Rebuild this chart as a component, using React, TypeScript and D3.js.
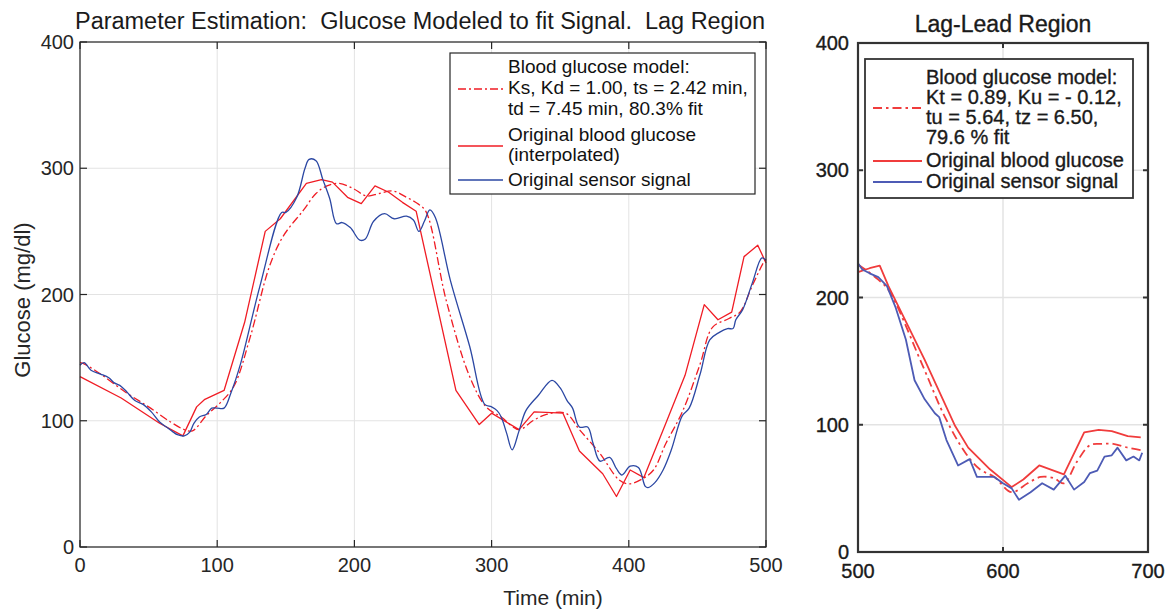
import React from 'react';
import * as d3 from 'd3';

// ---------- Left panel data (Lag Region) ----------
const lagXTicks = [0, 100, 200, 300, 400, 500];
const lagYTicks = [0, 100, 200, 300, 400];

const lagBloodT = [0, 30, 58, 75, 85, 91, 105, 120, 135, 146, 165, 176, 184, 195, 205, 215, 225, 235, 245, 274, 291, 300, 320, 331, 352, 364, 381, 391, 401, 411, 427, 441, 455, 465, 475, 484, 494, 500];
const lagBloodG = [135, 118, 98, 88, 111, 117, 124, 178, 250, 260, 288, 291, 289, 277, 272, 286, 281, 273, 266, 124, 97, 106, 93, 107, 106, 76, 58, 40, 61, 55, 98, 136, 192, 180, 186, 230, 239, 225];

const lagSensorT = [0, 3, 8, 15, 21, 25, 29, 34, 40, 46, 52, 58, 63, 68, 71, 76, 80, 83, 87, 92, 96, 100, 105, 110, 117, 131, 147, 150, 158, 164, 167, 172, 177, 182, 187, 191, 197, 204, 208, 214, 222, 229, 238, 243, 247, 251, 255, 259, 270, 284, 295, 300, 304, 307, 311, 315, 320, 325, 334, 344, 350, 355, 359, 364, 370, 374, 379, 386, 391, 395, 401, 407, 412, 414, 419, 425, 431, 439, 444, 452, 459, 466, 472, 476, 478, 483, 490, 497, 500];
const lagSensorG = [144, 146, 140, 137, 134, 130, 128, 123, 116, 113, 107, 99, 95, 91, 89, 88, 91, 98, 103, 105, 110, 110, 110, 122, 145, 206, 265, 265, 277, 300, 307, 306, 291, 276, 256, 257, 253, 243, 244, 258, 264, 260, 262, 259, 250, 258, 267, 261, 211, 159, 113, 111, 108, 103, 90, 77, 92, 108, 120, 132, 126, 116, 110, 95, 95, 82, 68, 71, 62, 57, 64, 63, 48, 47, 51, 61, 77, 104, 110, 137, 164, 170, 173, 173, 180, 188, 209, 229, 227];

const lagModelT = [0, 3, 15, 34, 50, 66, 76, 82, 92, 102, 112, 124, 138, 148, 163, 172, 180, 189, 199, 209, 218, 228, 238, 246, 252, 267, 284, 296, 307, 320, 330, 340, 354, 364, 379, 393, 400, 410, 418, 427, 439, 452, 461, 473, 481, 490, 498, 500];
const lagModelG = [146, 145, 137, 122, 111, 99, 93, 92, 104, 114, 127, 166, 222, 246, 267, 280, 286, 288, 284, 278, 280, 282, 277, 272, 266, 195, 135, 111, 103, 93, 100, 105, 106, 93, 74, 53, 50, 54, 61, 82, 107, 145, 174, 181, 186, 207, 225, 228];

const lagLegendModel = ['Blood glucose model:', 'Ks, Kd = 1.00, ts = 2.42 min,', 'td = 7.45 min, 80.3% fit'];
const lagLegendBlood = ['Original blood glucose', '(interpolated)'];
const lagLegendSensor = ['Original sensor signal'];

// ---------- Right panel data (Lag-Lead Region) ----------
const leadXTicks = [500, 600, 700];
const leadYTicks = [0, 100, 200, 300, 400];

const leadBloodT = [500, 508, 515, 521, 546, 567, 576, 591, 606, 614, 625, 642, 656, 666, 675, 686, 695];
const leadBloodG = [220, 223, 225, 209, 151, 99, 82, 65, 51, 57, 68, 61, 94, 96, 95, 91, 90];

const leadSensorT = [500, 503, 508, 514, 520, 526, 533, 539, 546, 553, 556, 561, 569, 577, 582, 594, 600, 606, 611, 619, 627, 635, 643, 649, 656, 660, 665, 670, 675, 679, 685, 690, 694, 696];
const leadSensorG = [227, 222, 219, 216, 209, 192, 167, 135, 120, 109, 106, 88, 68, 73, 59, 59, 54, 50, 41, 47, 54, 49, 60, 49, 55, 62, 64, 75, 76, 82, 72, 75, 72, 78];

const leadModelT = [500, 505, 514, 521, 544, 560, 574, 584, 594, 606, 617, 626, 635, 642, 651, 660, 668, 676, 686, 695];
const leadModelG = [226, 222, 214, 206, 148, 106, 78, 65, 59, 47, 54, 59, 58, 54, 71, 84, 85, 85, 82, 80];

const leadLegendModel = ['Blood glucose model:', 'Kt = 0.89, Ku = - 0.12,', 'tu = 5.64, tz = 6.50,', '79.6 % fit'];
const leadLegendBlood = ['Original blood glucose'];
const leadLegendSensor = ['Original sensor signal'];

const FONT = '"Liberation Sans", Arial, Helvetica, sans-serif';

const zip = (t: number[], g: number[]) => t.map((v, i) => [v, g[i]] as [number, number]);

export default function App() {
  // Left panel scales
  const lx = d3.scaleLinear().domain([0, 500]).range([80, 766]);
  const ly = d3.scaleLinear().domain([0, 400]).range([547, 42]);
  const lLine = d3.line<[number, number]>().x(d => lx(d[0])).y(d => ly(d[1]));
  const lSmooth = d3.line<[number, number]>().x(d => lx(d[0])).y(d => ly(d[1])).curve(d3.curveCatmullRom.alpha(0.5));

  // Right panel scales
  const rx = d3.scaleLinear().domain([500, 700]).range([858, 1148]);
  const ry = d3.scaleLinear().domain([0, 400]).range([552, 43]);
  const rLine = d3.line<[number, number]>().x(d => rx(d[0])).y(d => ry(d[1]));
  const rSmooth = d3.line<[number, number]>().x(d => rx(d[0])).y(d => ry(d[1])).curve(d3.curveCatmullRom.alpha(0.5));

  const lRed = '#f01c24';
  const lBlue = '#2b47a3';
  const rRed = '#f03c3c';
  const rBlue = '#4d5bb5';
  const grid = '#e3e3e3';

  const [lx0, lx1] = lx.range();
  const [ly0, ly1] = ly.range();
  const [rx0, rx1] = rx.range();
  const [ry0, ry1] = ry.range();

  const rText = { stroke: '#1a1a1a', strokeWidth: 0.35 };

  return (
    <svg width={1167} height={612} style={{ position: 'absolute', left: 0, top: 0, background: '#fff' }} fontFamily={FONT}>
      <rect x={0} y={0} width={1167} height={612} fill="#fff" />
      {/* ===== Left panel ===== */}
      <g>
        {lagXTicks.map(t => (
          <line key={'lgx' + t} x1={lx(t)} x2={lx(t)} y1={ly0} y2={ly1} stroke={grid} strokeWidth={1} />
        ))}
        {lagYTicks.map(t => (
          <line key={'lgy' + t} x1={lx0} x2={lx1} y1={ly(t)} y2={ly(t)} stroke={grid} strokeWidth={1} />
        ))}
        <path d={lLine(zip(lagBloodT, lagBloodG)) || ''} fill="none" stroke={lRed} strokeWidth={1.3} strokeLinejoin="round" />
        <path d={lSmooth(zip(lagModelT, lagModelG)) || ''} fill="none" stroke={lRed} strokeWidth={1.3} strokeDasharray="8,3,2,3" />
        <path d={lSmooth(zip(lagSensorT, lagSensorG)) || ''} fill="none" stroke={lBlue} strokeWidth={1.3} strokeLinejoin="round" />
        <rect x={lx0} y={ly1} width={lx1 - lx0} height={ly0 - ly1} fill="none" stroke="#262626" strokeWidth={1.2} />
        {lagXTicks.map(t => (
          <g key={'ltx' + t}>
            <line x1={lx(t)} x2={lx(t)} y1={ly0} y2={ly0 - 7} stroke="#262626" strokeWidth={1.2} />
            <line x1={lx(t)} x2={lx(t)} y1={ly1} y2={ly1 + 7} stroke="#262626" strokeWidth={1.2} />
            <text x={lx(t)} y={572} textAnchor="middle" fontSize={20} fill="#262626">{t}</text>
          </g>
        ))}
        {lagYTicks.map(t => (
          <g key={'lty' + t}>
            <line x1={lx0} x2={lx0 + 7} y1={ly(t)} y2={ly(t)} stroke="#262626" strokeWidth={1.2} />
            <line x1={lx1} x2={lx1 - 7} y1={ly(t)} y2={ly(t)} stroke="#262626" strokeWidth={1.2} />
            <text x={74} y={ly(t) + 7} textAnchor="end" fontSize={20} fill="#262626">{t}</text>
          </g>
        ))}
        <text x={420} y={29} textAnchor="middle" fontSize={23} fill="#1a1a1a" textLength={690} lengthAdjust="spacingAndGlyphs" style={{ whiteSpace: 'pre' }}>Parameter Estimation:  Glucose Modeled to fit Signal.  Lag Region</text>
        <text x={553} y={605} textAnchor="middle" fontSize={21} fill="#262626">Time (min)</text>
        <text transform="translate(30,300) rotate(-90)" textAnchor="middle" fontSize={22} fill="#262626">Glucose (mg/dl)</text>
        {/* legend */}
        <rect x={450} y={53} width={305} height={141} fill="#fff" stroke="#262626" strokeWidth={1.2} />
        <line x1={458} x2={503} y1={89} y2={89} stroke={lRed} strokeWidth={1.3} strokeDasharray="8,3,2,3" />
        <line x1={458} x2={503} y1={146} y2={146} stroke={lRed} strokeWidth={1.3} />
        <line x1={458} x2={503} y1={180} y2={180} stroke={lBlue} strokeWidth={1.3} />
        {lagLegendModel.map((s, i) => (
          <text key={'llm' + i} x={508} y={73 + i * 21} fontSize={19} fill="#111">{s}</text>
        ))}
        {lagLegendBlood.map((s, i) => (
          <text key={'llb' + i} x={508} y={141 + i * 20} fontSize={19} fill="#111">{s}</text>
        ))}
        {lagLegendSensor.map((s, i) => (
          <text key={'lls' + i} x={508} y={186 + i * 20} fontSize={19} fill="#111">{s}</text>
        ))}
      </g>

      {/* ===== Right panel ===== */}
      <g>
        {leadXTicks.map(t => (
          <line key={'rgx' + t} x1={rx(t)} x2={rx(t)} y1={ry0} y2={ry1} stroke={grid} strokeWidth={1.5} />
        ))}
        {leadYTicks.map(t => (
          <line key={'rgy' + t} x1={rx0} x2={rx1} y1={ry(t)} y2={ry(t)} stroke={grid} strokeWidth={1.5} />
        ))}
        <path d={rLine(zip(leadBloodT, leadBloodG)) || ''} fill="none" stroke={rRed} strokeWidth={1.8} strokeLinejoin="round" />
        <path d={rSmooth(zip(leadModelT, leadModelG)) || ''} fill="none" stroke={rRed} strokeWidth={1.8} strokeDasharray="9,4,2.5,4" />
        <path d={rLine(zip(leadSensorT, leadSensorG)) || ''} fill="none" stroke={rBlue} strokeWidth={1.8} strokeLinejoin="round" />
        <rect x={rx0} y={ry1} width={rx1 - rx0} height={ry0 - ry1} fill="none" stroke="#333" strokeWidth={2.2} />
        {leadXTicks.map(t => (
          <g key={'rtx' + t}>
            <line x1={rx(t)} x2={rx(t)} y1={ry0} y2={ry0 - 5} stroke="#333" strokeWidth={2} />
            <line x1={rx(t)} x2={rx(t)} y1={ry1} y2={ry1 + 5} stroke="#333" strokeWidth={2} />
            <text x={rx(t)} y={578} textAnchor="middle" fontSize={20} fill="#1a1a1a" {...rText}>{t}</text>
          </g>
        ))}
        {leadYTicks.map(t => (
          <g key={'rty' + t}>
            <line x1={rx0} x2={rx0 + 5} y1={ry(t)} y2={ry(t)} stroke="#333" strokeWidth={2} />
            <line x1={rx1} x2={rx1 - 5} y1={ry(t)} y2={ry(t)} stroke="#333" strokeWidth={2} />
            <text x={849} y={ry(t) + 7} textAnchor="end" fontSize={20} fill="#1a1a1a" {...rText}>{t}</text>
          </g>
        ))}
        <text x={1003} y={32} textAnchor="middle" fontSize={23} fill="#1a1a1a" {...rText}>Lag-Lead Region</text>
        {/* legend */}
        <rect x={865} y={59} width={268} height={139} fill="#fff" stroke="#333" strokeWidth={1.8} />
        <line x1={873} x2={922} y1={108} y2={108} stroke={rRed} strokeWidth={1.8} strokeDasharray="9,4,2.5,4" />
        <line x1={873} x2={922} y1={161} y2={161} stroke={rRed} strokeWidth={1.8} />
        <line x1={873} x2={922} y1={182} y2={182} stroke={rBlue} strokeWidth={1.8} />
        {leadLegendModel.map((s, i) => (
          <text key={'rlm' + i} x={926} y={84 + i * 20} fontSize={20} fill="#1a1a1a" {...rText}>{s}</text>
        ))}
        {leadLegendBlood.map((s, i) => (
          <text key={'rlb' + i} x={926} y={167 + i * 20} fontSize={20} fill="#1a1a1a" {...rText}>{s}</text>
        ))}
        {leadLegendSensor.map((s, i) => (
          <text key={'rls' + i} x={926} y={188 + i * 20} fontSize={20} fill="#1a1a1a" {...rText}>{s}</text>
        ))}
      </g>
    </svg>
  );
}
